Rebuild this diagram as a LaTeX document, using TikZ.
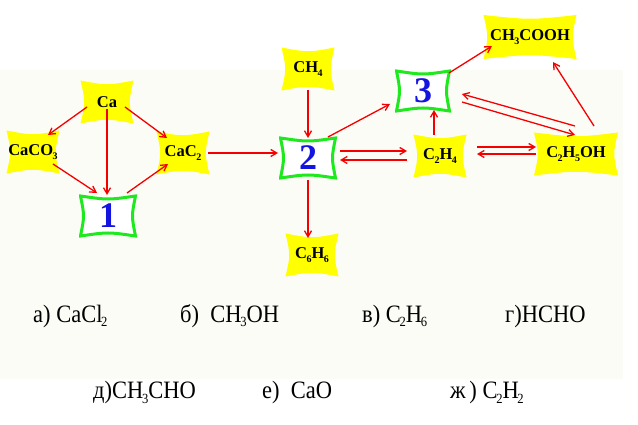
\documentclass[tikz,border=0pt]{standalone}
\usepackage{fontspec}
\setmainfont{Liberation Serif}
\usetikzlibrary{arrows.meta,calc}
\definecolor{bgc}{RGB}{252,252,247}
\definecolor{yfill}{RGB}{255,255,0}
\definecolor{gr}{RGB}{30,232,30}
\definecolor{numblue}{RGB}{20,20,225}
\definecolor{arrred}{RGB}{245,0,0}
\newcommand\nsub[1]{\kern-0.5pt\raisebox{-3.5pt}{\fontsize{10}{10}\selectfont #1}}
\newcommand\tsub[1]{\kern-1.5pt\raisebox{-5pt}{\fontsize{14}{14}\selectfont #1}}
\newcommand\condtxt[1]{\scalebox{0.9}[1]{\fontsize{25}{25}\selectfont #1}}
\newcommand\concave[2]{%
  ([shift={(#1,-#1)}]path picture bounding box.north west)
  .. controls ([shift={(0pt,-#1-#2)}]path picture bounding box.north) ..
  ([shift={(-#1,-#1)}]path picture bounding box.north east)
  .. controls ([shift={(-#1-#2,0pt)}]path picture bounding box.east) ..
  ([shift={(-#1,#1)}]path picture bounding box.south east)
  .. controls ([shift={(0pt,#1+#2)}]path picture bounding box.south) ..
  ([shift={(#1,#1)}]path picture bounding box.south west)
  .. controls ([shift={(#1+#2,0pt)}]path picture bounding box.west) ..
  cycle}
\tikzset{
  ysh/.style={minimum width=#1, minimum height=43pt, inner sep=0pt,
    font=\fontsize{16.5}{17}\selectfont\bfseries,
    path picture={\fill[yfill] \concave{0pt}{5pt};}},
  ysh/.default=53pt,
  gbox/.style={minimum width=#1, minimum height=43pt, inner sep=0pt,
    font=\fontsize{36}{36}\selectfont\bfseries, text=numblue,
    path picture={\filldraw[fill=white, draw=gr, line width=3pt] \concave{1.5pt}{4pt};}},
  gbox/.default=58pt,
  arr/.style={draw=arrred, line width=1.3pt, -{Straight Barb[length=6pt,width=7pt]}},
  lbl/.style={anchor=base west, inner sep=0pt},
}
\begin{document}
\begin{tikzpicture}[x=1pt,y=-1pt]
\useasboundingbox (0,0) rectangle (638,425);
\fill[white] (0,0) rectangle (638,425);
\fill[bgc] (0,70) rectangle (623,379);

% nodes
\node[ysh] (ca)   at (107,102) {Ca};
\node[ysh] (caco) at (33,152)  {CaCO\nsub{3}};
\node[ysh] (cac)  at (183,153) {CaC\nsub{2}};
\node[gbox] (b1)  at (108,216) {1};
\node[gbox] (b2)  at (308,158) {2};
\node[ysh] (ch4)  at (308,69)  {CH\nsub{4}};
\node[ysh] (c6)   at (312,255) {C\nsub{6}H\nsub{6}};
\node[gbox=56pt] (b3) at (423,91) {3};
\node[ysh] (c2h4) at (440,156) {C\nsub{2}H\nsub{4}};
\node[ysh=84pt] (eth) at (576,154) {C\nsub{2}H\nsub{5}OH};
\node[ysh=93pt, minimum height=44pt] (acid) at (530,37) {CH\nsub{3}COOH};

% connectors
\draw[arr] ([shift={(-20,5)}]ca.center) -- ([shift={(15,-17)}]caco.center);
\draw[arr] ([shift={(0,7)}]ca.center) -- ([shift={(-1,-21)}]b1.center);
\draw[arr] ([shift={(18,5)}]ca.center) -- ([shift={(-16,-15)}]cac.center);
\draw[arr] ([shift={(20,12)}]caco.center) -- ([shift={(-11,-23)}]b1.center);
\draw[arr] ([shift={(19,-23)}]b1.center) -- ([shift={(-15,11)}]cac.center);
\draw[arr] ([shift={(25,0)}]cac.center) -- ([shift={(-30,-5)}]b2.center);
\draw[arr] ([shift={(0,21)}]ch4.center) -- ([shift={(0,-20)}]b2.center);
\draw[arr] ([shift={(0,22)}]b2.center) -- ([shift={(-4,-17)}]c6.center);
\draw[arr] ([shift={(20,-21)}]b2.center) -- ([shift={(-33,13)}]b3.center);
\draw[arr] ([shift={(32,-7)}]b2.center) -- ([shift={(-33,-5)}]c2h4.center);
\draw[arr] ([shift={(-33,4)}]c2h4.center) -- ([shift={(32,2)}]b2.center);
\draw[arr] ([shift={(-6,-21)}]c2h4.center) -- ([shift={(11,19)}]b3.center);
\draw[arr] ([shift={(37,-9)}]c2h4.center) -- ([shift={(-40,-7)}]eth.center);
\draw[arr] ([shift={(-40,0)}]eth.center) -- ([shift={(37,-2)}]c2h4.center);
\draw[arr] ([shift={(-1,-28)}]eth.center) -- ([shift={(39,3)}]b3.center);
\draw[arr] ([shift={(39,11)}]b3.center) -- ([shift={(-1,-19)}]eth.center);
\draw[arr] ([shift={(26,-18)}]b3.center) -- ([shift={(-38,9)}]acid.center);
\draw[arr] ([shift={(18,-28)}]eth.center) -- ([shift={(23,25)}]acid.center);

% answer options
\node[lbl] (t1) at (33,322)  {\condtxt{а) CaCl\tsub{2}}};
\node[lbl] (t2) at (180,322) {\condtxt{б)\ \ CH\tsub{3}OH}};
\node[lbl] (t3) at (362,322) {\condtxt{в) C\tsub{2}H\tsub{6}}};
\node[lbl] (t4) at (505,322) {\condtxt{г)HCHO}};
\node[lbl] (t5) at (93,398)  {\condtxt{д)CH\tsub{3}CHO}};
\node[lbl] (t6) at (262,398) {\condtxt{е)\ \ CaO}};
\node[lbl] (t7) at (450,398) {\condtxt{ж\,) C\tsub{2}H\tsub{2}}};
\end{tikzpicture}
\end{document}
